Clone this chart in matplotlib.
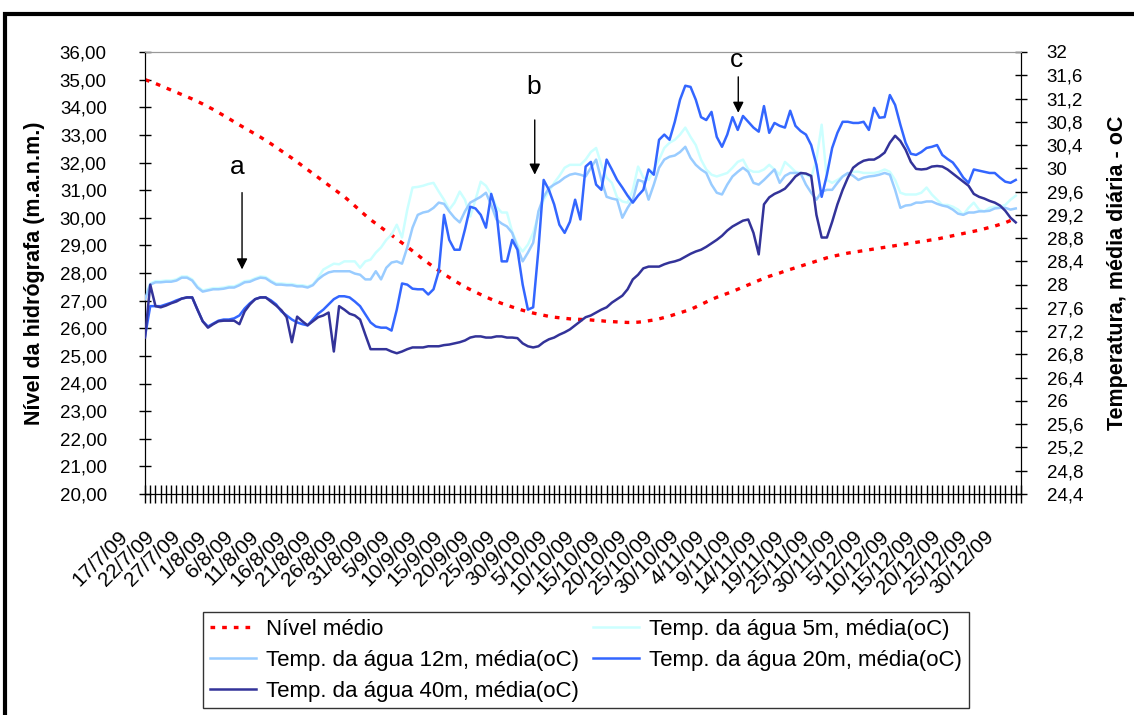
import matplotlib
matplotlib.use("Agg")
import matplotlib.pyplot as plt
import matplotlib.transforms as mtransforms
from matplotlib.patches import Rectangle

plt.rcParams['font.family'] = ['Liberation Sans', 'DejaVu Sans']

# ---------------- data ----------------
tick_labels = ['17/7/09', '22/7/09', '27/7/09', '1/8/09', '6/8/09', '11/8/09', '16/8/09',
               '21/8/09', '26/8/09', '31/8/09', '5/9/09', '10/9/09', '15/9/09', '20/9/09',
               '25/9/09', '30/9/09', '5/10/09', '10/10/09', '15/10/09', '20/10/09',
               '25/10/09', '30/10/09', '4/11/09', '9/11/09', '14/11/09', '19/11/09',
               '25/11/09', '30/11/09', '5/12/09', '10/12/09', '15/12/09', '20/12/09',
               '25/12/09', '30/12/09']
n_categories = 168          # daily categories on the axis (labels every 5th)

nivel = [35.00, 34.93, 34.86, 34.78, 34.70, 34.62, 34.54, 34.46, 34.38, 34.30,
         34.21, 34.12, 34.02, 33.92, 33.81, 33.70, 33.59, 33.47, 33.36, 33.25,
         33.14, 33.03, 32.92, 32.80, 32.68, 32.55, 32.42, 32.29, 32.16, 32.02,
         31.88, 31.74, 31.60, 31.46, 31.32, 31.18, 31.04, 30.90, 30.76, 30.60,
         30.43, 30.26, 30.09, 29.93, 29.79, 29.65, 29.51, 29.37, 29.23, 29.09,
         28.95, 28.80, 28.65, 28.50, 28.36, 28.22, 28.09, 27.96, 27.84, 27.72,
         27.61, 27.50, 27.40, 27.31, 27.22, 27.13, 27.05, 26.97, 26.90, 26.84,
         26.77, 26.71, 26.65, 26.60, 26.55, 26.51, 26.47, 26.43, 26.40, 26.38,
         26.36, 26.34, 26.33, 26.32, 26.31, 26.30, 26.28, 26.27, 26.25, 26.24,
         26.23, 26.22, 26.21, 26.21, 26.22, 26.24, 26.27, 26.30, 26.34, 26.39,
         26.44, 26.50, 26.56, 26.62, 26.68, 26.77, 26.86, 26.95, 27.04, 27.12,
         27.19, 27.26, 27.33, 27.41, 27.49, 27.57, 27.65, 27.73, 27.81, 27.88,
         27.94, 28.00, 28.07, 28.13, 28.19, 28.25, 28.31, 28.37, 28.43, 28.49,
         28.55, 28.60, 28.64, 28.68, 28.72, 28.75, 28.78, 28.81, 28.84, 28.87,
         28.90, 28.93, 28.96, 28.99, 29.02, 29.05, 29.08, 29.11, 29.14, 29.17,
         29.20, 29.23, 29.27, 29.31, 29.35, 29.39, 29.43, 29.47, 29.51, 29.55,
         29.60, 29.65, 29.70, 29.76, 29.82, 29.90, 29.98]

temp_5m = [27.77, 28.02, 28.06, 28.06, 28.07, 28.07, 28.09, 28.14, 28.14, 28.09,
           27.97, 27.90, 27.92, 27.94, 27.94, 27.95, 27.97, 27.97, 28.01, 28.06,
           28.07, 28.11, 28.14, 28.13, 28.07, 28.02, 28.02, 28.01, 28.01, 27.99,
           27.99, 27.97, 28.00, 28.12, 28.26, 28.31, 28.36, 28.35, 28.40, 28.40,
           28.40, 28.29, 28.40, 28.43, 28.55, 28.64, 28.77, 28.86, 29.03, 28.81,
           29.29, 29.67, 29.68, 29.70, 29.73, 29.75, 29.60, 29.46, 29.29, 29.41,
           29.60, 29.46, 29.17, 29.46, 29.77, 29.70, 29.55, 29.34, 29.24, 29.24,
           28.91, 28.69, 28.57, 28.69, 28.89, 29.20, 29.46, 29.60, 29.75, 29.87,
           30.01, 30.06, 30.06, 30.06, 30.15, 30.28, 30.35, 30.06, 29.84, 29.75,
           29.50, 29.43, 29.41, 29.63, 30.03, 29.84, 29.80, 29.98, 30.15, 30.35,
           30.44, 30.49, 30.58, 30.70, 30.54, 30.40, 30.15, 29.98, 29.89, 29.86,
           29.89, 29.92, 30.01, 30.11, 30.15, 29.98, 29.94, 29.94, 29.98, 30.06,
           29.98, 29.89, 30.11, 30.03, 29.94, 29.92, 29.89, 29.84, 30.15, 30.75,
           29.80, 29.75, 29.80, 29.86, 29.91, 29.94, 29.94, 29.92, 29.92, 29.92,
           29.94, 29.98, 29.94, 29.80, 29.58, 29.55, 29.55, 29.55, 29.58, 29.67,
           29.55, 29.46, 29.37, 29.37, 29.34, 29.29, 29.20, 29.32, 29.41, 29.29,
           29.26, 29.32, 29.34, 29.34, 29.37, 29.46, 29.53]

temp_12m = [27.75, 28.00, 28.04, 28.04, 28.05, 28.05, 28.07, 28.12, 28.12, 28.07,
            27.95, 27.88, 27.90, 27.92, 27.92, 27.93, 27.95, 27.95, 27.99, 28.04,
            28.05, 28.09, 28.12, 28.11, 28.05, 28.00, 28.00, 27.99, 27.99, 27.97,
            27.97, 27.95, 27.99, 28.09, 28.16, 28.21, 28.23, 28.23, 28.23, 28.23,
            28.19, 28.17, 28.09, 28.09, 28.23, 28.09, 28.29, 28.38, 28.40, 28.36,
            28.64, 28.98, 29.20, 29.24, 29.26, 29.32, 29.41, 29.39, 29.26, 29.15,
            29.07, 29.26, 29.41, 29.46, 29.51, 29.58, 29.37, 29.12, 29.05, 29.00,
            28.89, 28.64, 28.40, 28.55, 28.72, 29.26, 29.51, 29.66, 29.72, 29.77,
            29.84, 29.89, 29.91, 29.89, 29.86, 30.01, 30.15, 29.80, 29.51, 29.48,
            29.46, 29.15, 29.32, 29.46, 29.80, 29.77, 29.46, 29.72, 30.01, 30.15,
            30.20, 30.22, 30.28, 30.37, 30.18, 30.06, 29.98, 29.92, 29.72, 29.58,
            29.55, 29.72, 29.86, 29.94, 30.01, 29.94, 29.75, 29.72, 29.80, 29.89,
            29.98, 29.75, 29.87, 29.92, 29.92, 29.91, 29.72, 29.58, 29.46, 29.60,
            29.63, 29.63, 29.75, 29.86, 29.92, 29.87, 29.80, 29.84, 29.86, 29.87,
            29.89, 29.92, 29.89, 29.63, 29.32, 29.36, 29.37, 29.41, 29.41, 29.43,
            29.43, 29.39, 29.36, 29.34, 29.29, 29.22, 29.20, 29.24, 29.24, 29.26,
            29.26, 29.27, 29.31, 29.32, 29.32, 29.29, 29.31]

temp_20m = [27.11, 27.63, 27.63, 27.63, 27.66, 27.69, 27.73, 27.76, 27.78, 27.78,
            27.57, 27.37, 27.28, 27.33, 27.38, 27.40, 27.40, 27.42, 27.47, 27.59,
            27.68, 27.75, 27.78, 27.78, 27.73, 27.66, 27.54, 27.47, 27.40, 27.35,
            27.32, 27.30, 27.40, 27.50, 27.57, 27.66, 27.75, 27.80, 27.80, 27.78,
            27.71, 27.63, 27.49, 27.35, 27.28, 27.26, 27.26, 27.21, 27.57, 28.02,
            28.00, 27.93, 27.92, 27.92, 27.83, 27.92, 28.23, 29.20, 28.77, 28.60,
            28.60, 28.95, 29.34, 29.31, 29.20, 28.98, 29.56, 29.25, 28.40, 28.40,
            28.77, 28.60, 28.00, 27.57, 27.61, 28.60, 29.80, 29.63, 29.38, 29.03,
            28.89, 29.08, 29.46, 29.12, 30.03, 30.11, 29.72, 29.63, 30.15, 29.98,
            29.80, 29.67, 29.53, 29.41, 29.53, 29.63, 29.98, 29.89, 30.49, 30.58,
            30.49, 30.80, 31.18, 31.42, 31.40, 31.18, 30.88, 30.83, 30.97, 30.54,
            30.37, 30.58, 30.88, 30.66, 30.90, 30.80, 30.70, 30.63, 31.07, 30.61,
            30.78, 30.73, 30.70, 30.99, 30.73, 30.64, 30.58, 30.40, 30.06, 29.51,
            29.89, 30.35, 30.61, 30.80, 30.80, 30.78, 30.78, 30.80, 30.66, 31.04,
            30.87, 30.88, 31.26, 31.09, 30.75, 30.44, 30.25, 30.23, 30.28, 30.35,
            30.37, 30.40, 30.23, 30.16, 30.10, 29.98, 29.84, 29.75, 29.98, 29.96,
            29.94, 29.92, 29.92, 29.84, 29.77, 29.75, 29.80]

temp_40m = [27.09, 28.00, 27.63, 27.61, 27.64, 27.68, 27.71, 27.76, 27.78, 27.78,
            27.57, 27.37, 27.26, 27.32, 27.37, 27.38, 27.38, 27.38, 27.32, 27.54,
            27.66, 27.75, 27.78, 27.78, 27.71, 27.64, 27.56, 27.44, 27.01, 27.45,
            27.37, 27.30, 27.37, 27.44, 27.47, 27.52, 26.85, 27.63, 27.57, 27.50,
            27.47, 27.40, 27.14, 26.89, 26.89, 26.89, 26.89, 26.85, 26.82, 26.85,
            26.89, 26.92, 26.92, 26.92, 26.94, 26.94, 26.94, 26.96, 26.97, 26.99,
            27.01, 27.04, 27.09, 27.11, 27.11, 27.09, 27.09, 27.11, 27.11, 27.09,
            27.09, 27.08, 26.99, 26.94, 26.92, 26.94, 27.01, 27.06, 27.09, 27.14,
            27.18, 27.23, 27.30, 27.37, 27.44, 27.47, 27.52, 27.57, 27.61, 27.69,
            27.75, 27.81, 27.92, 28.09, 28.17, 28.28, 28.31, 28.31, 28.31, 28.35,
            28.38, 28.40, 28.43, 28.48, 28.53, 28.57, 28.60, 28.65, 28.71, 28.77,
            28.84, 28.93, 29.00, 29.05, 29.10, 29.12, 28.89, 28.52, 29.38, 29.50,
            29.56, 29.60, 29.65, 29.75, 29.86, 29.92, 29.91, 29.87, 29.20, 28.81,
            28.81, 29.08, 29.38, 29.63, 29.84, 30.01, 30.08, 30.13, 30.15, 30.15,
            30.20, 30.27, 30.44, 30.56, 30.47, 30.32, 30.11, 29.99, 29.98, 29.99,
            30.03, 30.04, 30.03, 29.98, 29.91, 29.84, 29.77, 29.70, 29.56, 29.51,
            29.48, 29.44, 29.41, 29.36, 29.27, 29.15, 29.07]

left_ticks = list(range(20, 37))
right_ticks = [24.4, 24.8, 25.2, 25.6, 26.0, 26.4, 26.8, 27.2, 27.6, 28.0,
               28.4, 28.8, 29.2, 29.6, 30.0, 30.4, 30.8, 31.2, 31.6, 32.0]

# ---------------- figure ----------------
W, H = 1134, 715
fig = plt.figure(figsize=(W / 100, H / 100), dpi=100)
fig.patch.set_facecolor('white')

x0, x1, ytop, ybot = 145, 1021, 52, 494
ax = fig.add_axes([x0 / W, 1 - ybot / H, (x1 - x0) / W, (ybot - ytop) / H])
ax2 = ax.twinx()

days = list(range(len(nivel)))

c5, c12, c20, c40 = '#CCFFFF', '#99CCFF', '#3366FF', '#333399'
lw = 1.8
l5, = ax2.plot(days, temp_5m, color=c5, lw=lw, zorder=2)
l12, = ax2.plot(days, temp_12m, color=c12, lw=lw, zorder=3)
l20, = ax2.plot(days, temp_20m, color=c20, lw=lw, zorder=4)
l40, = ax2.plot(days, temp_40m, color=c40, lw=lw, zorder=5)
lred, = ax.plot(days, nivel, color='#FF0000', lw=2.4, linestyle=(0, (1.4, 2.1)),
                dash_capstyle='butt')

ax.set_xlim(0, n_categories - 1)
ax.set_ylim(20, 36)
ax2.set_ylim(24.4, 32)

# y axes
ax.set_yticks(left_ticks)
ax.set_yticklabels([f"{v:.2f}".replace('.', ',') for v in left_ticks])
ax2.set_yticks(right_ticks)
ax2.set_yticklabels([(f"{v:.1f}".rstrip('0').rstrip('.')).replace('.', ',') for v in right_ticks])

ax.tick_params(axis='y', direction='inout', length=9, width=1, labelsize=13.5, pad=23)
ax2.tick_params(axis='y', direction='inout', length=9, width=1, labelsize=13.5, pad=14)

# x axis
major_pos = list(range(0, 5 * len(tick_labels), 5))
ax.set_xticks(major_pos)
ax.set_xticklabels(tick_labels, rotation=45, ha='right', va='center',
                   rotation_mode='anchor')
ax.set_xticks(list(range(n_categories)), minor=True)
ax.tick_params(axis='x', which='both', direction='inout', length=13, width=1,
               labelsize=15, pad=22)
offset = mtransforms.ScaledTranslation(-20 / 100, 0, fig.dpi_scale_trans)
for lbl in ax.get_xticklabels():
    lbl.set_transform(lbl.get_transform() + offset)

for a in (ax, ax2):
    a.spines['top'].set_color('#999999')
    a.spines['left'].set_color('black')
    a.spines['right'].set_color('black')
    a.spines['bottom'].set_color('black')
    a.patch.set_visible(False)

ymid = 0.5 * ((1 - ybot / H) + (1 - ytop / H))
ax.set_ylabel('Nível da hidrógrafa (m.a.n.m.)', fontsize=15.5, fontweight='bold')
ax.yaxis.set_label_coords(45 / W, ymid, transform=fig.transFigure)
ax2.set_ylabel('Temperatura, média diária - oC', fontsize=15.5, fontweight='bold')
ax2.yaxis.set_label_coords(1107 / W, ymid, transform=fig.transFigure)

# annotations (data coords on left axis)
arrow = dict(arrowstyle='-|>', color='black', lw=1.0, mutation_scale=16,
             shrinkA=0, shrinkB=0)
ax.annotate('', xy=(18.5, 28.13), xytext=(18.5, 30.91), arrowprops=arrow)
ax.text(17.6, 31.85, 'a', fontsize=19, ha='center', va='center')
ax.annotate('', xy=(74.3, 31.56), xytext=(74.3, 33.54), arrowprops=arrow)
ax.text(74.1, 34.74, 'b', fontsize=19, ha='center', va='center')
ax.annotate('', xy=(113.1, 33.80), xytext=(113.1, 35.10), arrowprops=arrow)
ax.text(112.8, 35.71, 'c', fontsize=19, ha='center', va='center', clip_on=False)

# legend (row-major ordering like the original)
handles = [lred, l12, l40, l5, l20]
labels = ['Nível médio', 'Temp. da água 12m, média(oC)', 'Temp. da água 40m, média(oC)',
          'Temp. da água 5m, média(oC)', 'Temp. da água 20m, média(oC)']
leg = fig.legend(handles, labels, ncol=2, loc='upper left',
                 bbox_to_anchor=(203 / W, 1 - 612 / H), bbox_transform=fig.transFigure,
                 fontsize=16.0, frameon=True, fancybox=False, edgecolor='black',
                 handlelength=2.1, handletextpad=0.45, columnspacing=0.6,
                 labelspacing=0.45, borderpad=0.3, borderaxespad=0)
leg.get_frame().set_linewidth(1.0)

# outer thick frame (runs beyond the right and bottom edges)
fig.add_artist(Rectangle((4.5 / W, -0.1), 1.2, (1 - 14 / H) + 0.1,
                         transform=fig.transFigure, fill=False, lw=3.0,
                         edgecolor='black', clip_on=False))

fig.savefig('out.png', dpi=100, facecolor='white')
